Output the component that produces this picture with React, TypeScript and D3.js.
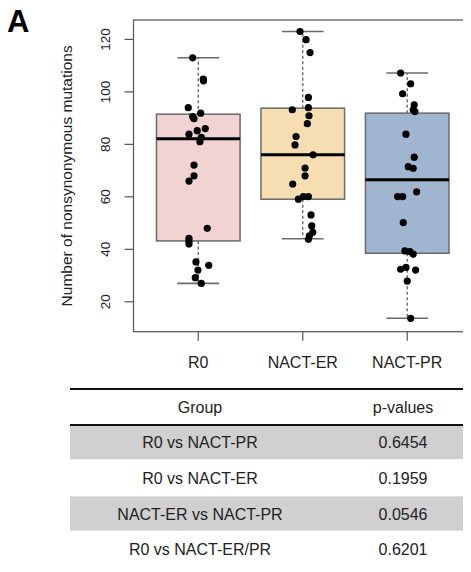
import React from "react";
import * as d3 from "d3";

const groups = ["R0", "NACT-ER", "NACT-PR"];
const boxColors = ["#f1d4d2", "#f6deb2", "#a0b5cf"];

const r0Values = [113, 104.9, 104.2, 94, 90.6, 89.8, 91.9, 83.9, 85.2, 86.0, 82.7, 81.0, 72.1, 68, 66, 48, 44.2, 43.2, 42, 35.2, 33.9, 32.1, 29.2, 27];
const r0Jitter = [-0.054, 0.048, 0.05, -0.096, -0.054, -0.041, 0.023, -0.089, -0.01, 0.067, 0.029, 0.016, -0.041, -0.041, -0.089, 0.086, -0.089, -0.089, -0.089, -0.022, 0.1, -0.003, -0.029, 0.029];

const erValues = [123, 119.9, 115, 97.9, 93.2, 94, 90.9, 87.9, 83, 79.8, 76, 71, 68, 64.9, 60.1, 60.1, 59.1, 53.1, 48.9, 46.5, 45.1, 43.8];
const erJitter = [-0.026, 0.032, 0.07, 0.054, -0.1, 0.054, 0.06, 0.044, -0.064, -0.074, 0.099, 0.022, 0.022, -0.096, 0.006, 0.054, -0.042, 0.079, 0.086, 0.096, 0.063, 0.054];

const prValues = [107.2, 103.1, 99.3, 95.1, 93.2, 92.5, 83.9, 75.1, 71.5, 70.9, 61.9, 60.1, 60.1, 50.2, 39.4, 39.1, 38.2, 32.4, 33.1, 32.1, 27.9, 13.7];
const prJitter = [-0.063, 0.033, -0.044, 0.067, 0.057, 0.074, -0.012, 0.067, 0.01, 0.057, 0.09, -0.092, -0.044, -0.038, -0.022, 0.026, 0.057, -0.063, -0.012, 0.08, 0, 0.033];

const boxQ1 = [43.2, 59.1, 38.5];
const boxMedian = [82.1, 76.0, 66.5];
const boxQ3 = [91.5, 93.8, 91.9];
const whiskerLo = [27, 44, 13.7];
const whiskerHi = [113, 123, 107.2];

const yTicks = [20, 40, 60, 80, 100, 120];

const tableGroups = ["R0 vs NACT-PR", "R0 vs NACT-ER", "NACT-ER vs NACT-PR", "R0 vs NACT-ER/PR"];
const tablePValues = ["0.6454", "0.1959", "0.0546", "0.6201"];

const FONT = "'Liberation Sans', Arial, Helvetica, sans-serif";

export default function App() {
  const W = 471, H = 572;
  const plotL = 133.5, plotT = 20, plotB = 331.7, plotR = 470;
  const y = d3.scaleLinear().domain([8.6, 127.4]).range([plotB, plotT]);
  const x = d3.scaleLinear().domain([0.38, 3.62]).range([133.5, 472]);
  const unit = x(2) - x(1);
  const boxW = unit * 0.8;
  const capW = boxW * 0.5;
  const series = [
    { v: r0Values, j: r0Jitter },
    { v: erValues, j: erJitter },
    { v: prValues, j: prJitter },
  ];
  const axisCol = "#555";
  const boxStroke = "#6a6a6a";

  const tableTop = 389, headerBottom = 425, rowH = 35.7;
  const colGroupX = 200, colPX = 403;
  const tableL = 70, tableR = 471;

  return (
    <div style={{ margin: -8, width: W, height: H }}>
      <svg width={W} height={H} style={{ display: "block", background: "#fff" }} fontFamily={FONT}>
        <text x={7} y={32} fontSize={31} fontWeight="bold" fill="#000">A</text>

        {groups.map((g, i) => {
          const cx = x(i + 1);
          return (
            <g key={g}>
              <line x1={cx} x2={cx} y1={y(boxQ3[i])} y2={y(whiskerHi[i])} stroke={boxStroke} strokeWidth={1.4} strokeDasharray="3,2.5" />
              <line x1={cx} x2={cx} y1={y(boxQ1[i])} y2={y(whiskerLo[i])} stroke={boxStroke} strokeWidth={1.4} strokeDasharray="3,2.5" />
              <line x1={cx - capW / 2} x2={cx + capW / 2} y1={y(whiskerHi[i])} y2={y(whiskerHi[i])} stroke={boxStroke} strokeWidth={1.6} />
              <line x1={cx - capW / 2} x2={cx + capW / 2} y1={y(whiskerLo[i])} y2={y(whiskerLo[i])} stroke={boxStroke} strokeWidth={1.6} />
              <rect x={cx - boxW / 2} y={y(boxQ3[i])} width={boxW} height={y(boxQ1[i]) - y(boxQ3[i])} fill={boxColors[i]} stroke={boxStroke} strokeWidth={1.5} />
              <line x1={cx - boxW / 2} x2={cx + boxW / 2} y1={y(boxMedian[i])} y2={y(boxMedian[i])} stroke="#000" strokeWidth={3} />
            </g>
          );
        })}

        {series.map((s, i) =>
          s.v.map((v, k) => (
            <circle key={i + "-" + k} cx={x(i + 1 + s.j[k])} cy={y(v)} r={3.6} fill="#000" />
          ))
        )}

        <rect x={plotL} y={plotT} width={plotR - plotL} height={plotB - plotT} fill="none" stroke={axisCol} strokeWidth={1.2} />

        {yTicks.map((t) => (
          <g key={t}>
            <line x1={plotL - 9} x2={plotL} y1={y(t)} y2={y(t)} stroke={axisCol} strokeWidth={1.2} />
            <text transform={`translate(${110},${y(t)}) rotate(-90)`} textAnchor="middle" fontSize={13.5} fill="#222">{t}</text>
          </g>
        ))}
        <text transform={`translate(${72},${(plotT + plotB) / 2}) rotate(-90)`} textAnchor="middle" fontSize={15.5} fill="#222">
          Number of nonsynonymous mutations
        </text>

        {groups.map((g, i) => (
          <g key={g}>
            <line x1={x(i + 1)} x2={x(i + 1)} y1={plotB} y2={plotB + 9} stroke={axisCol} strokeWidth={1.2} />
            <text x={x(i + 1)} y={367.5} textAnchor="middle" fontSize={16} fill="#222">{g}</text>
          </g>
        ))}

        {tableGroups.map((g, i) => {
          const top = headerBottom + i * rowH;
          return (
            <g key={g}>
              {i % 2 === 0 && (
                <rect x={tableL} y={top} width={tableR - tableL} height={rowH - 1.5} fill="#d0d0d0" />
              )}
              <text x={colGroupX} y={top + rowH / 2 + 5.5} textAnchor="middle" fontSize={16} fill="#222">{g}</text>
              <text x={colPX} y={top + rowH / 2 + 5.5} textAnchor="middle" fontSize={16} fill="#222">{tablePValues[i]}</text>
            </g>
          );
        })}
        <text x={colGroupX} y={(tableTop + headerBottom) / 2 + 5.5} textAnchor="middle" fontSize={16} fill="#222">Group</text>
        <text x={colPX} y={(tableTop + headerBottom) / 2 + 5.5} textAnchor="middle" fontSize={16} fill="#222">p-values</text>
        <line x1={tableL} x2={tableR} y1={tableTop} y2={tableTop} stroke="#111" strokeWidth={2.2} />
        <line x1={tableL} x2={tableR} y1={headerBottom} y2={headerBottom} stroke="#111" strokeWidth={2.2} />
        <line x1={tableL} x2={tableR} y1={headerBottom + 4 * rowH} y2={headerBottom + 4 * rowH} stroke="#111" strokeWidth={2.2} />
      </svg>
    </div>
  );
}
